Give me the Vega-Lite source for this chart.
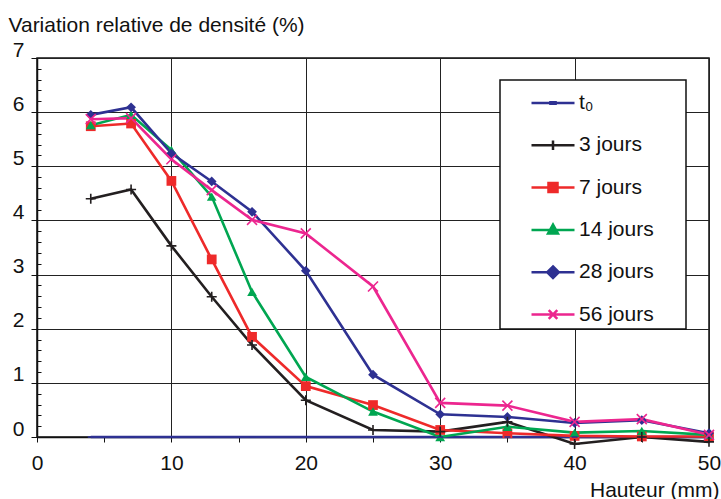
{
  "$schema": "https://vega.github.io/schema/vega-lite/v6.json",
  "width": 672,
  "height": 379,
  "autosize": {"type": "none"},
  "padding": {"left": 37, "top": 58, "right": 12, "bottom": 62},
  "background": "white",
  "config": {
    "font": "Liberation Sans",
    "view": {"stroke": "#111", "strokeWidth": 1.5},
    "axis": {"labelFont": "Liberation Sans", "titleFont": "Liberation Sans", "labelColor": "#111", "titleColor": "#111", "titleFontWeight": "normal", "labelFontSize": 21, "titleFontSize": 21}
  },
  "data": {
    "values": [
      {"serie": "t₀", "x": 4, "y": 0}, {"serie": "t₀", "x": 7, "y": 0}, {"serie": "t₀", "x": 10, "y": 0}, {"serie": "t₀", "x": 13, "y": 0}, {"serie": "t₀", "x": 16, "y": 0}, {"serie": "t₀", "x": 20, "y": 0}, {"serie": "t₀", "x": 25, "y": 0}, {"serie": "t₀", "x": 30, "y": 0}, {"serie": "t₀", "x": 35, "y": 0}, {"serie": "t₀", "x": 40, "y": 0}, {"serie": "t₀", "x": 45, "y": 0}, {"serie": "t₀", "x": 50, "y": 0},
      {"serie": "3 jours", "x": 4, "y": 4.40}, {"serie": "3 jours", "x": 7, "y": 4.57}, {"serie": "3 jours", "x": 10, "y": 3.53}, {"serie": "3 jours", "x": 13, "y": 2.59}, {"serie": "3 jours", "x": 16, "y": 1.70}, {"serie": "3 jours", "x": 20, "y": 0.68}, {"serie": "3 jours", "x": 25, "y": 0.13}, {"serie": "3 jours", "x": 30, "y": 0.10}, {"serie": "3 jours", "x": 35, "y": 0.28}, {"serie": "3 jours", "x": 40, "y": -0.13}, {"serie": "3 jours", "x": 45, "y": 0.0}, {"serie": "3 jours", "x": 50, "y": -0.09},
      {"serie": "7 jours", "x": 4, "y": 5.74}, {"serie": "7 jours", "x": 7, "y": 5.79}, {"serie": "7 jours", "x": 10, "y": 4.73}, {"serie": "7 jours", "x": 13, "y": 3.28}, {"serie": "7 jours", "x": 16, "y": 1.85}, {"serie": "7 jours", "x": 20, "y": 0.94}, {"serie": "7 jours", "x": 25, "y": 0.59}, {"serie": "7 jours", "x": 30, "y": 0.13}, {"serie": "7 jours", "x": 35, "y": 0.07}, {"serie": "7 jours", "x": 40, "y": 0.02}, {"serie": "7 jours", "x": 45, "y": 0.01}, {"serie": "7 jours", "x": 50, "y": 0.01},
      {"serie": "14 jours", "x": 4, "y": 5.76}, {"serie": "14 jours", "x": 7, "y": 5.95}, {"serie": "14 jours", "x": 10, "y": 5.30}, {"serie": "14 jours", "x": 13, "y": 4.44}, {"serie": "14 jours", "x": 16, "y": 2.68}, {"serie": "14 jours", "x": 20, "y": 1.11}, {"serie": "14 jours", "x": 25, "y": 0.47}, {"serie": "14 jours", "x": 30, "y": 0.0}, {"serie": "14 jours", "x": 35, "y": 0.19}, {"serie": "14 jours", "x": 40, "y": 0.08}, {"serie": "14 jours", "x": 45, "y": 0.11}, {"serie": "14 jours", "x": 50, "y": 0.04},
      {"serie": "28 jours", "x": 4, "y": 5.95}, {"serie": "28 jours", "x": 7, "y": 6.09}, {"serie": "28 jours", "x": 10, "y": 5.24}, {"serie": "28 jours", "x": 13, "y": 4.72}, {"serie": "28 jours", "x": 16, "y": 4.16}, {"serie": "28 jours", "x": 20, "y": 3.07}, {"serie": "28 jours", "x": 25, "y": 1.15}, {"serie": "28 jours", "x": 30, "y": 0.42}, {"serie": "28 jours", "x": 35, "y": 0.37}, {"serie": "28 jours", "x": 40, "y": 0.26}, {"serie": "28 jours", "x": 45, "y": 0.31}, {"serie": "28 jours", "x": 50, "y": 0.07},
      {"serie": "56 jours", "x": 4, "y": 5.87}, {"serie": "56 jours", "x": 7, "y": 5.89}, {"serie": "56 jours", "x": 10, "y": 5.13}, {"serie": "56 jours", "x": 13, "y": 4.56}, {"serie": "56 jours", "x": 16, "y": 4.01}, {"serie": "56 jours", "x": 20, "y": 3.76}, {"serie": "56 jours", "x": 25, "y": 2.78}, {"serie": "56 jours", "x": 30, "y": 0.63}, {"serie": "56 jours", "x": 35, "y": 0.58}, {"serie": "56 jours", "x": 40, "y": 0.28}, {"serie": "56 jours", "x": 45, "y": 0.33}, {"serie": "56 jours", "x": 50, "y": 0.04}
    ]
  },
  "layer": [
    {
      "mark": {"type": "point", "opacity": 0},
      "encoding": {
        "x": {"field": "x", "type": "quantitative", "scale": {"domain": [0, 50], "nice": false},
          "axis": {"orient": "bottom", "values": [5, 15, 25, 35, 45], "labels": false, "grid": false, "domain": false, "tickSize": 5, "tickColor": "#111", "title": null, "zindex": 0}},
        "y": {"field": "y", "type": "quantitative", "scale": {"domain": [0, 7], "nice": false, "zero": false},
          "axis": {"orient": "left", "values": [0.2,0.4,0.6,0.8,1.2,1.4,1.6,1.8,2.2,2.4,2.6,2.8,3.2,3.4,3.6,3.8,4.2,4.4,4.6,4.8,5.2,5.4,5.6,5.8,6.2,6.4,6.6,6.8], "labels": false, "grid": false, "domain": false, "tickSize": -4, "tickColor": "#111", "title": null, "zindex": 0}}
      }
    },
    {
      "mark": {"type": "line", "strokeWidth": 2.6, "clip": false},
      "encoding": {
        "x": {"field": "x", "type": "quantitative",
          "axis": {"orient": "bottom", "values": [0, 10, 20, 30, 40, 50], "grid": true, "gridColor": "#222", "gridOpacity": 1, "gridWidth": 1, "domainColor": "#111", "domainWidth": 1.5, "tickColor": "#111", "tickSize": 5, "labelPadding": 10, "labelFlush": false, "title": "Hauteur (mm)", "titleX": 682, "titleY": 59, "titleAlign": "right", "titleBaseline": "alphabetic", "zindex": 0}},
        "y": {"field": "y", "type": "quantitative",
          "axis": {"orient": "left", "values": [0, 1, 2, 3, 4, 5, 6, 7], "grid": true, "gridColor": "#222", "gridOpacity": 1, "gridWidth": 1, "domainColor": "#111", "domainWidth": 1.5, "tickColor": "#111", "tickSize": 6, "labelPadding": 7, "labelOffset": -8, "labelFlush": false, "title": "Variation relative de densité (%)", "titleAngle": 0, "titleX": -29, "titleY": -27, "titleAlign": "left", "titleBaseline": "alphabetic", "zindex": 0}},
        "color": {"field": "serie", "type": "nominal",
          "scale": {"domain": ["t₀", "3 jours", "7 jours", "14 jours", "28 jours", "56 jours"], "range": ["#2e3192", "#231f20", "#ee2a2a", "#00a651", "#2e3192", "#ec268f"]},
          "legend": {
            "title": null, "orient": "none", "legendX": 463, "legendY": 22,
            "padding": 0, "rowPadding": 3.3, "symbolSize": 1849, "symbolStrokeWidth": 2.5, "symbolOpacity": 1, "symbolOffset": 30,
            "labelFont": "Liberation Sans", "labelFontSize": 21, "labelColor": "#111", "labelOffset": 3, "labelLimit": 200,
            "strokeColor": "#111", "fillColor": "white", "cornerRadius": 0,
            "encode": {
              "legend": {"update": {"strokeWidth": {"value": 1.5}}},
              "symbols": {"update": {
              "shape": {"signal": "'M0,-0.884M5.93,0.405' + (datum.value === '3 jours' ? 'M-1,0H1M0,-0.22V0.22' : datum.value === '7 jours' ? 'M-1,0H1M-0.21,-0.21H0.21V0.21H-0.21Z' : datum.value === '14 jours' ? 'M-1,0H1M0,-0.25L0.23,0.17H-0.23Z' : datum.value === '28 jours' ? 'M-1,0H1M0,-0.27L0.27,0L0,0.27L-0.27,0Z' : datum.value === '56 jours' ? 'M-1,0H1M-0.2,-0.2L0.2,0.2M-0.2,0.2L0.2,-0.2' : 'M-1,0H1M-0.12,-0.03H0.12V0.03H-0.12Z')"},
              "fill": {"scale": "color", "field": "value"},
              "stroke": {"scale": "color", "field": "value"},
              "opacity": {"value": 1}
            }}}
          }},
        "order": {"field": "x", "type": "quantitative"}
      }
    },
    {
      "transform": [{"filter": "datum.serie === '7 jours' || datum.serie === '14 jours' || datum.serie === '28 jours'"}],
      "mark": {"type": "point", "filled": true, "opacity": 1, "size": 95, "clip": false},
      "encoding": {
        "x": {"field": "x", "type": "quantitative", "axis": null},
        "y": {"field": "y", "type": "quantitative", "axis": null},
        "color": {"field": "serie", "type": "nominal", "legend": null},
        "shape": {"field": "serie", "type": "nominal",
          "scale": {"domain": ["7 jours", "14 jours", "28 jours"], "range": ["square", "triangle-up", "diamond"]},
          "legend": null}
      }
    },
    {
      "transform": [{"filter": "datum.serie === 't₀' || datum.serie === '3 jours' || datum.serie === '56 jours'"}],
      "mark": {"type": "point", "filled": false, "opacity": 1, "size": 100, "strokeWidth": 1.6, "clip": false},
      "encoding": {
        "x": {"field": "x", "type": "quantitative", "axis": null},
        "y": {"field": "y", "type": "quantitative", "axis": null},
        "color": {"field": "serie", "type": "nominal", "legend": null},
        "shape": {"field": "serie", "type": "nominal",
          "scale": {"domain": ["t₀", "3 jours", "56 jours"], "range": ["M-0.6,0H0.6", "M-1,0H1M0,-1V1", "M-1,-1L1,1M-1,1L1,-1"]},
          "legend": null}
      }
    }
  ],
  "resolve": {"axis": {"x": "independent", "y": "independent"}, "scale": {"shape": "independent"}}
}
